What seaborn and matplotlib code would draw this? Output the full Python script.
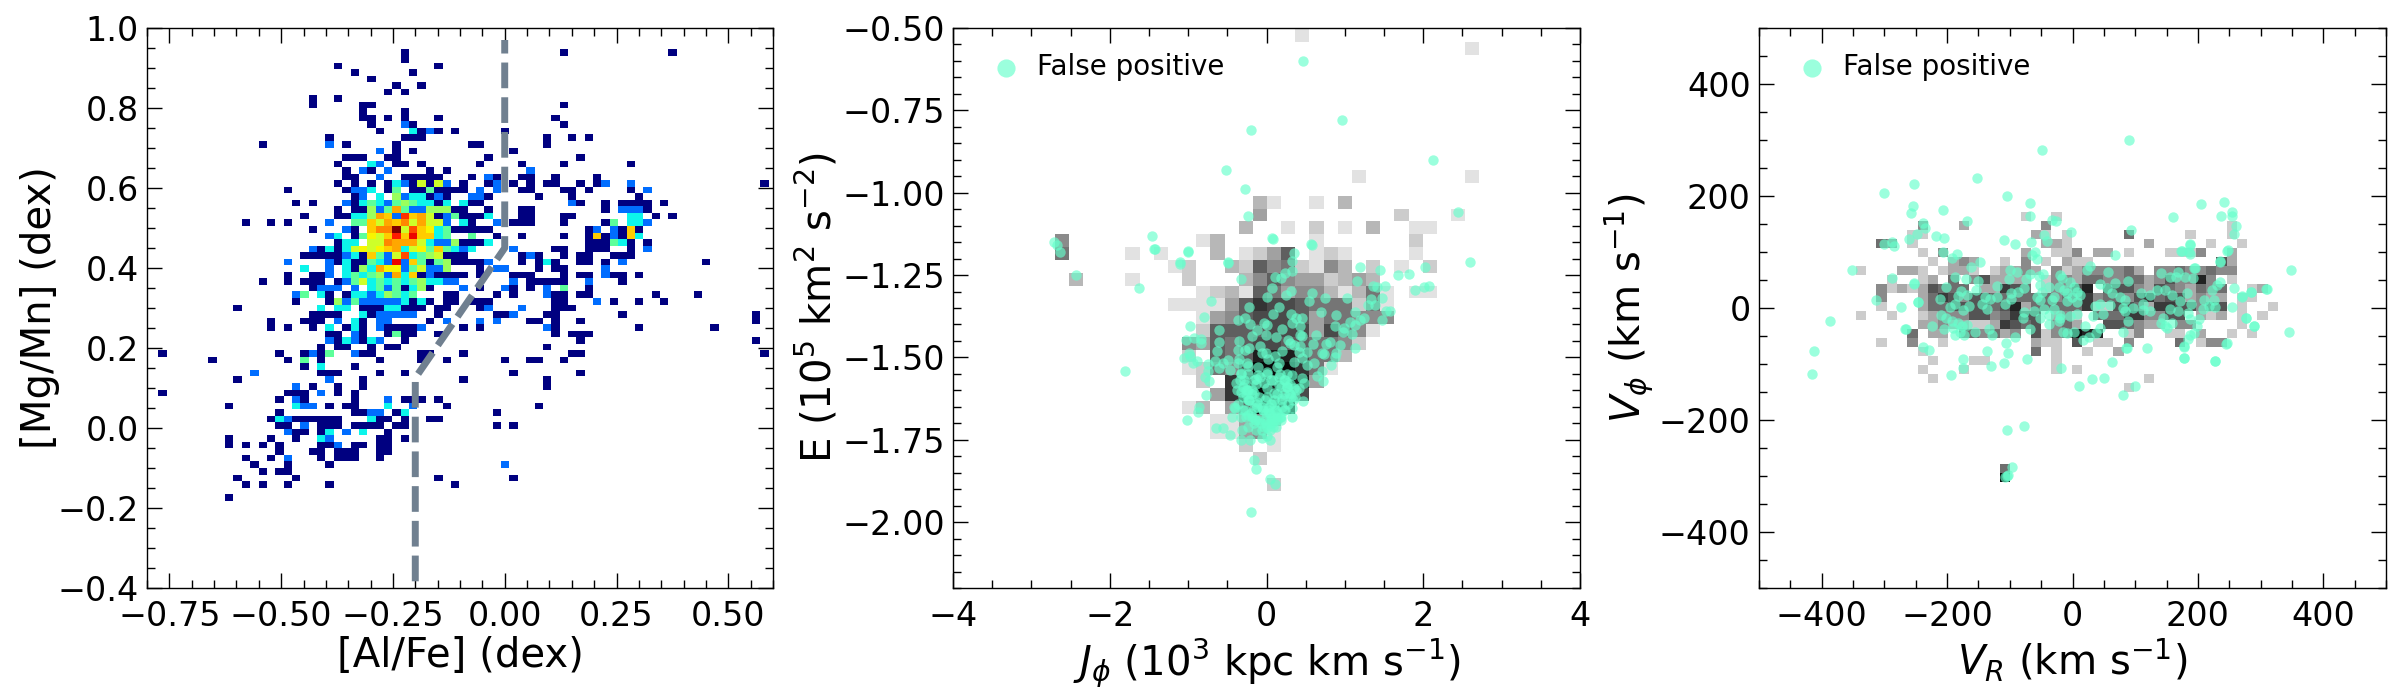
import numpy as np
import matplotlib
matplotlib.use("Agg")
import matplotlib.pyplot as plt
from matplotlib.colors import LogNorm, Normalize, PowerNorm
from matplotlib.ticker import MultipleLocator
import seaborn as sns

# ---------- left panel: counts per row of the [Al/Fe]-[Mg/Mn] histogram (row: "col:count") ----------
al_edges = np.linspace(-0.775, 0.628, 76)
mg_edges = np.linspace(-0.1818, 0.9464, 70)
mg_rows = {
68:"29 48 61",67:"29",66:"21 33",65:"23 30",64:"25",63:"28 31",62:"27 29",61:"18 21",60:"18 24 25 48",59:"24 29",
58:"24 25 27 29 33 47",57:"25 29:2 30 48",56:"26 30:3 31 32:2 33 35 41",55:"20 29 30 31 46 49 51",
54:"12 20:2 22 28 37 38 46",53:"26:2 28 30 42",52:"22 23 24 27 28 39 50",
51:"21 25:3 26:2 28 29 31 38 43 48 56",50:"22 24:2 25 27:2 32 34 44:2",
49:"22 23 26:2 29 30 31 32 33 37 39:2 40 43 44 47 52",
48:"21 23 25 27 28:3 29:2 30 31:6 32 33:6 34:2 36 39 40:2 42 44 46 47 50 52 53:2 56:2 72",
47:"15 22 23:2 24:2 25:3 27 28:4 30 31 32:4 33 34 35 36 38:2 40:2 43 44 48 49 51 56 58:2",
46:"23 24:2 26:3 28:5 29:2 30:3 31:3 32 33:2 34 37:2 38:2 39 45 49 57",
45:"16 18 22:2 23 24:3 25:4 26:3 27:2 28:4 29:5 30:4 31:3 32:3 33 34:3 36:3 37 38 49:2 50 53 55 56 57 58 60",
44:"21 23 24 25:5 26:2 27:4 28:9 29:4 30:2 31:2 32:5 33:5 34:5 35 36 39 43 44 53 55:2 56:2 57:2 58",
43:"17 21 22 23:3 24:3 25:5 26:9 27:8 28:2 29:13 30:8 31:9 32:6 33 34:2 35:4 36 37 38 39:3 43 44 48 49 56:3 57:3 59 61",
42:"10 13 15 20:2 23:4 24:4 25:8 26:6 27:9 28:8 29:10 30:6 31:9 32:6 33:6 34:2 36:3 37 40:2 42 43 44 48 53 54:4 56:3 57:3 58:2",
41:"18 22:2 23 25:8 26:10 27:10 28:20 29:6 30:12 31:8 32:7 33:3 34:4 35 36 37 38 39 51 52:2 54:2 55 56:8 57",
40:"20:2 21:3 23 24:4 25:7 26:6 27:8 28:14 29:8 30:15 31:8 32:8 33:3 34:4 37:4 40 43 48 51 52:8 53 54:2 55 56:8 57:3",
39:"21 22:3 23:3 25:6 26:6 27:10 28:9 29:9 30:9 31:6 32:3 33:2 34:2 35:5 36 37 38 39:3 51 52 53 54:4 55:3 56 58",
38:"18:2 19 20:3 21 22:3 23:6 24:7 25:6 26:7 27:8 28:9 29:3 30:6 31:7 32:4 33:8 34:4 35:3 36:2 37:3 42:2 47 48 51 52 53 56 58:2",
37:"17 18 19 20 21 22:2 23:3 24 25:8 26:4 27:2 28:6 29:12 30:3 31:4 32:5 33:6 34 35 36 43 44:2 45 48 50 51 54 55 56",
36:"15:2 20:2 21 22:3 23 24 25:4 26:3 27:2 28:15 29:2 30:8 31:4 32 33:4 34:5 35 36 37 38 39:2 43 45 46:3 47 50 51 53 55:2 65",
35:"17:3 20:2 22:3 23 24:5 25:3 26:9 27:7 28:7 29:2 30:4 31:6 32:2 33:2 34:5 38 40:2 41:2 45 47 48 53:2",
34:"15 18 19 20:2 22:3 23:4 24:3 25:4 26:5 27:2 28:9 29:3 30:8 31 32:2 33 34 35 36 38 42 43 44 48 50 51 53:2 54 55 57",
33:"12 15 17 18 19 21 22:2 23:4 24:6 25:3 26:4 27:3 28:4 29:3 30:4 31:5 32:3 33:3 34:2 35:2 42:2 44 45 46 47 48 51:2 55",
32:"18 19:2 20:2 21:2 23:2 25:3 26:4 27:2 28:4 29 30:3 31:5 32 36:2 38 41:2 42 44 46:2 48:4 51",
31:"16:2 17:4 19:3 20 22 23:3 24:3 25:2 26:3 27:5 28:4 29:3 30:4 34 35 40 42 46:2 47 48 50 51 59 64",
30:"16 20 21:5 22:2 23:4 24:2 25:2 26:2 27:2 28:2 29:3 30 31:3 32 34 35 37 38 39 47 48 52:2 54 57 60",
29:"9 19:3 21:3 22:3 24 25 26 27:3 28:3 29 30 31 33 34 38 39:2 43:2 47 48 49",
28:"18 19 20 21 24:3 25 26:2 27:2 28:2 29:2 30:2 33 40 41 42:2 46 47 55 71",
27:"13 17 18 19 21:2 23:3 24 26:2 27:2 32 34:2 38:2 40:2 44 45 47 50 71",
26:"13 15 18 20:3 22 23:3 24 26:2 27 28 29 30 31:2 36 38 46:2 47 57 66",
25:"20 21 23:2 24 27 28:4 29 30 33 47 49 50 51",
24:"20:2 21 22:3 23:2 24 25:3 26:2 29 50 71",23:"19 21 22 25 27 28 46",
22:"0 14 17 18:2 19 20:4 23:2 24 25 31 32 36 49 50 72",21:"6 15 17:4 19 26 31 34 41 44 45 48",20:"17 19:3 23",
19:"11:2 19 20 21 26 29 42 50",18:"9 20:2 24 36 46",17:"16:2 18 21 24 46",16:"0 15 16 17 19:2 21 23",
15:"14 16:2 17 23 27:2 29 30 31 33",14:"8 16:3 17:2 18:2 20 22 23 27:3 30:2 34 45",13:"14 23 24 25:2 26:2 28 29:3 40",
12:"13 14:3 15:2 16 17 18 19 20 21 25:3 26 27 29 32 33",11:"14 15 17:2 19 20 21 23 24 25 26 28 29 40 42",
10:"15:2 16 17 19 20:3 22:2 24:3 27",9:"8 13 16 19:3 20:2 26 27 29",8:"8 10 12 14 19 20 21:2 23 24 26 27",
7:"14 18 19 21 22 23 26 27",6:"10 13 15:2 19 21 22 23 26",5:"11 15 20 41:2",4:"12 14 15",3:"9 16 33 42",2:"10 12 15 20 35",0:"8",
}
dash_x = [-0.2, -0.2, 0.0, 0.0]
dash_y = [-0.47, 0.125, 0.45, 0.97]

# ---------- middle panel ----------
jphi_edges = 0.187 + 0.1807 * np.arange(-17, 16)
energy_edges = -1.165 - 0.0389 * np.arange(20, -19, -1)
energy_rows = {
-17:"1:1",-16:"13:1",-6:"5:1 13:1",-4:"-2:3 -1:1 2:1 4:3",-3:"-2:4 8:2 12:1",
-2:"-3:3 0:1 2:2 4:1 6:3 9:1 10:1",-1:"-16:5 -6:1 -5:3 2:1 9:2",
0:"-16:6 -11:1 -9:1 -5:3 -3:1 -2:2 -1:4 0:7 2:1 3:2 4:1 9:1",
1:"-8:1 -7:2 -4:3 -3:2 -2:7 -1:5 0:6 1:2 2:1 3:5 4:3 6:2 8:1 10:2",
2:"-15:3 -11:1 -7:2 -3:3 -2:5 -1:7 0:5 1:4 2:4 3:2 4:3 5:4 6:3",
3:"-6:1 -5:2 -4:3 -3:1 -2:7 -1:6 0:4 1:5 2:5 3:3 4:1 5:3 6:6 7:1 9:1 10:1",
4:"-8:1 -7:1 -6:1 -5:1 -4:4 -3:7 -2:9 -1:8 0:8 1:7 2:6 3:6 4:6 5:2 6:6 7:1",
5:"-6:1 -5:4 -4:5 -3:7 -2:8 -1:8 0:8 1:7 2:4 3:6 4:6 5:5 6:5 7:5",
6:"-6:2 -5:7 -4:7 -3:7 -2:7 -1:8 0:8 1:8 2:4 3:8 4:6 5:5 6:1",
7:"-7:5 -6:4 -5:7 -4:6 -3:7 -2:8 -1:8 0:7 1:7 2:6 3:6 4:5 5:2",
8:"-7:2 -5:7 -4:6 -3:7 -2:10 -1:10 0:10 1:8 2:6 3:6 4:3",
9:"-7:1 -6:2 -5:6 -4:5 -3:8 -2:11 -1:11 0:11 1:9 2:6 3:1",
10:"-6:2 -4:9 -3:9 -2:10 -1:10 0:11 1:10 2:4",
11:"-5:4 -4:9 -3:10 -2:11 -1:10 0:8 1:8",
12:"-7:1 -6:3 -4:4 -3:7 -2:11 -1:11 0:11",
13:"-5:1 -4:1 -3:4 -2:5 -1:4",14:"-5:1 -4:1 -3:4 -2:5 -1:1",15:"-3:2 -1:1",16:"-2:2",18:"-1:2",
}
fp_jphi = [.46,.96,-.20,2.13,-.52,-.27,-.24,2.44,.08,.58,-1.46,-2.71,-2.67,-2.64,-1.43,-1.0,-1.10,-.49,-2.43,-1.63,-1.80,2.6,-.195,.05,.11,-.13,-.16,
.07,.57,-1.0,-1.42,-1.11,-.49,.35,.33,.33,.23,.18,.11,-.33,1.19,1.45,1.68,1.82,2.02,1.16,1.36,1.41,1.51,1.90,2.01,2.07,.07,.31,.25,.01,.58,.75,1.03,.54,-.71,1.33,1.38,1.30,1.48,-.22,.16,.69,1.13,1.53,1.57,1.47,-.80,-.98,-.36,-.27,-.21,.08,.31,.38,.45,.32,.43,.89,.88,1.25,1.19,1.07,1.13,.99,1.09,.97,-.03,.01,-.12,-.60,.20,.43,.455,.63,-.01,-.18,.12,-.61,-1.03,-.93,-.84,-.83,-.35,-.08,.27,.30,.35,.43,.59,.81,.76,.94,1.13,-.63,-.37,-.27,-.22,-.06,.20,-.01,.52,.42,.73,.89,-.99,-1.05,-.97,-.94,-.885,-.66,-.49,-.55,-.60,-.35,.02,.11,-.25,-.37,-.46,-.75,-.75,-.23,.13,.35,.455,.52,.60,.82,.71,.87,-.79,-.73,-.77,-.855,-.87,-1.01,-.33,-.11,.01,.16,.17,.32,.455,.65,.72,.71,
-.29,-.39,-.38,-.32,-.11,-.13,-.03,.06,.16,.26,.35,.48,.41,.29,-.25,-.16,.01,.09,.20,.31,.46,.33,-.42,-.40,-.23,-.12,.01,.09,-.16,-.05,.03,.11,.20,-.33,-.44,-.23,-.13,-.01,.07,.14,.18,.08,-.65,-.55,-.46,-.31,-.21,-.33,-.06,-.0,.05,
-.30,-.26,-.22,-.18,-.14,-.10,-.06,-.02,.02,.06,.10,.14,.18,.22,.26,-.28,-.20,-.12,-.04,.04,.12,.20,-.24,-.16,-.08,.00,.08,.16,.24,-.18,-.10,-.02,.06,.14,-.07,.01,.05,.09,-.03,.13,-.15,.17,.03,-.01,.07,
-.34,-.30,-.26,-.22,-.18,-.14,.22,.26,.30,.34,.38,-.30,-.26,-.16,.24,.28,.32,.36,-.36,-.32,-.28,-.24,.18,.22,.26,.30,-.24,-.14,-.06,.04,.12]
fp_energy = [-.60,-.78,-.81,-.90,-.93,-.99,-1.07,-1.06,-1.14,-1.16,-1.13,-1.15,-1.16,-1.18,-1.17,-1.18,-1.21,-1.21,-1.25,-1.29,-1.54,-1.21,-1.97,-1.87,-1.885,-1.84,-1.81,
-1.139,-1.156,-1.176,-1.172,-1.215,-1.212,-1.184,-1.206,-1.237,-1.243,-1.26,-1.255,-1.263,-1.227,-1.235,-1.25,-1.247,-1.225,-1.267,-1.282,-1.285,-1.283,-1.295,-1.285,-1.283,-1.29,-1.297,-1.311,-1.316,-1.303,-1.321,-1.319,-1.328,-1.328,-1.322,-1.341,-1.342,-1.321,-1.348,-1.348,-1.361,-1.362,-1.358,-1.358,-1.385,-1.377,-1.404,-1.385,-1.379,-1.399,-1.368,-1.368,-1.379,-1.379,-1.397,-1.405,-1.371,-1.405,-1.379,-1.387,-1.392,-1.402,-1.41,-1.43,-1.422,-1.397,-1.402,-1.417,-1.418,-1.415,-1.432,-1.434,-1.432,-1.432,-1.435,-1.437,-1.452,-1.447,-1.441,-1.443,-1.457,-1.45,-1.464,-1.447,-1.455,-1.463,-1.466,-1.46,-1.452,-1.46,-1.462,-1.472,-1.481,-1.478,-1.476,-1.471,-1.486,-1.48,-1.488,-1.483,-1.485,-1.491,-1.488,-1.486,-1.503,-1.495,-1.516,-1.512,-1.512,-1.508,-1.516,-1.533,-1.504,-1.506,-1.496,-1.516,-1.516,-1.539,-1.52,-1.54,-1.525,-1.528,-1.513,-1.503,-1.523,-1.516,-1.522,-1.488,-1.5,-1.559,-1.573,-1.614,-1.652,-1.665,-1.691,-1.547,-1.528,-1.543,-1.518,-1.549,-1.554,-1.561,-1.557,-1.573,-1.541,
-1.569,-1.579,-1.599,-1.604,-1.554,-1.567,-1.579,-1.569,-1.584,-1.579,-1.594,-1.579,-1.594,-1.609,-1.599,-1.609,-1.594,-1.609,-1.624,-1.619,-1.632,-1.655,-1.65,-1.655,-1.63,-1.635,-1.62,-1.64,-1.655,-1.66,-1.65,-1.66,-1.65,-1.68,-1.68,-1.675,-1.69,-1.67,-1.68,-1.69,-1.69,-1.71,-1.715,-1.715,-1.735,-1.72,-1.75,-1.75,-1.745,-1.74,-1.75,
-1.62,-1.60,-1.63,-1.61,-1.64,-1.62,-1.65,-1.63,-1.66,-1.64,-1.63,-1.61,-1.59,-1.61,-1.59,-1.66,-1.67,-1.65,-1.66,-1.67,-1.66,-1.63,-1.55,-1.57,-1.56,-1.55,-1.57,-1.56,-1.57,-1.68,-1.69,-1.69,-1.69,-1.68,-1.70,-1.71,-1.70,-1.69,-1.71,-1.67,-1.69,-1.68,-1.67,-1.70,-1.70,
-1.57,-1.59,-1.61,-1.63,-1.60,-1.58,-1.57,-1.59,-1.61,-1.63,-1.60,-1.66,-1.68,-1.70,-1.66,-1.64,-1.68,-1.62,-1.64,-1.55,-1.58,-1.60,-1.68,-1.66,-1.55,-1.58,-1.71,-1.72,-1.72,-1.72,-1.71]
n2 = min(len(fp_jphi), len(fp_energy))
fp_jphi, fp_energy = fp_jphi[:n2], fp_energy[:n2]

# ---------- right panel ----------
vr_edges = -312.9 + 16.43 * np.arange(-2, 40)
vphi_edges = 59.1 - 16.07 * np.arange(24, -8, -1)
vphi_rows = {
-6:"14:1 17:1",-5:"4:3 8:2 16:3 34:1",-4:"3:1 4:1 15:2 16:1 18:1 24:4 30:1 34:1",
-3:"0:4 1:3 3:1 16:2 17:2 18:1 26:2 32:1 35:1",
-2:"4:1 6:3 14:2 17:1 18:1 19:3 21:2 22:2 24:1 28:1 29:1 30:1 31:3 34:2",
-1:"5:1 7:2 8:3 9:2 12:1 14:3 16:1 18:2 19:1 20:1 33:5 34:2",
0:"-2:1 2:2 3:2 4:1 6:1 7:2 8:2 9:1 11:1 12:2 13:2 14:3 15:2 17:3 18:1 19:2 20:3 21:3 22:3 23:3 24:4 25:2 27:3 28:3 29:4 30:3 31:3 32:4 33:3 34:3",
1:"1:1 4:1 5:2 7:4 9:3 10:5 11:2 12:2 13:2 14:2 16:1 17:3 18:3 19:2 20:4 21:4 22:3 23:3 24:4 25:4 26:2 27:3 28:5 29:3 30:3 31:7 32:3 34:1",
2:"0:3 1:1 2:2 3:1 4:2 5:5 6:4 7:4 8:4 10:2 11:2 12:6 13:5 14:4 16:1 17:3 18:3 19:5 20:7 22:5 23:5 24:5 25:3 26:2 27:5 28:4 29:3 30:2 31:4 32:3 33:4 36:1 37:2",
3:"0:3 4:2 5:4 6:6 7:5 8:3 9:5 10:5 11:4 12:4 13:4 14:4 15:4 16:4 17:3 18:4 19:4 20:6 21:3 22:4 23:4 24:3 25:5 26:6 27:4 28:5 29:5 30:2 31:3 32:2 33:2 35:1 36:1",
4:"0:1 4:2 5:4 6:4 7:5 8:5 9:5 10:5 11:4 12:5 13:7 14:2 15:4 16:4 17:4 18:4 19:4 20:6 21:1 22:1 23:5 24:5 25:4 26:2 27:6 28:6 29:5 30:5 31:3 32:5 33:5 35:1 38:1",
5:"-2:1 1:1 4:1 5:2 6:3 7:3 8:3 9:5 10:5 11:3 12:4 13:6 14:5 15:5 17:2 18:3 19:1 21:4 22:4 23:4 24:6 25:6 26:3 27:3 28:5 29:5 31:2 32:1 33:2 35:1 37:1",
6:"4:2 5:2 6:3 7:2 8:2 9:1 10:1 11:2 12:6 13:5 14:4 15:5 17:3 18:4 19:2 22:5 23:5 24:4 25:3 26:2 27:2 29:3 30:3 35:1",
7:"3:4 5:2 6:2 8:4 9:4 10:3 11:4 12:2 13:3 15:5 16:1 17:3 18:4 19:8 20:7 21:7 24:1 25:3 28:1 29:1 31:2 34:1 36:1",
8:"0:1 3:3 6:1 15:2 16:1 17:1 19:5 21:1 22:1 24:3 29:4 31:1 32:3 33:3",
9:"4:1 15:4 17:1 20:1 23:2",10:"5:1 9:1 10:1 17:1",11:"4:1 8:1 17:1 19:1",12:"5:1 26:1",13:"24:1",22:"12:4",23:"12:8",
}
fp_vr = [90,-48,-153,-253,-301,-105,241,-68,205,-254,-257,-206,-68,161,255,255,237,-168,261,257,-239,-235,-248,-218,-205,-33,-27,-46,-41,-3,93,-109,-92,-66,-260,-300,-288,-285,-207,-184,-192,248,188,186,173,-60,-64,-56,68,236,-147,-162,-351,349,-288,310,285,270,-386,-412,-415,345,290,276,-274,-313,-253,-247,-267,227,178,178,246,119,86,63,81,99,51,31,11,-72,-103,-109,-130,-194,-174,-174,-78,-105,-97,-103,-108,-105,-136,-239,-229,-19,
-253,-246,-211,-201,-188,-170,-151,-178,-183,-168,-154,-195,-187,-174,-165,-139,-131,-145,-137,-121,-121,-107,-98,-98,-87,-77,-100,-88,-101,-74,-68,-54,-47,-52,-49,-57,-52,-33,-30,-37,-22,-14,-4,2,-9,7,-1,12,-9,7,-17,-20,-46,-61,-78,-30,-38,-20,-4,7,-52,-79,-20,-37,-21,-15,-9,2,20,44,37,27,17,-68,-92,-106,-128,-156,-133,-205,-192,-183,-169,-177,-187,-173,-190,-179,-224,-266,-210,-202,
36,44,60,49,32,63,55,44,57,23,28,68,75,84,81,89,97,84,89,81,87,113,113,124,110,124,134,148,158,171,155,141,165,169,180,193,196,192,187,174,188,236,183,189,156,145,141,148,158,150,169,185,187,202,198,193,188,185,178,178,228,209,225,217,227,208,222,230,235,258,254,270,285,309,276,290,245,247]
fp_vphi = [300,283,233,222,206,200,190,187,186,182,170,175,165,162,164,171,164,155,147,133,152,142,132,129,125,158,155,131,120,136,139,121,114,117,124,115,118,110,100,96,90,103,114,100,101,100,95,87,95,84,82,74,68,68,53,34,28,22,-23,-76,-117,-43,-33,-17,1,14,44,10,-37,-94,-89,-68,-63,-71,-71,-96,-155,-140,-125,-127,-139,-91,-80,-99,-103,-119,-107,-91,-210,-217,-284,-298,-302,-300,-77,-69,-75,-107,
43,10,16,38,55,51,48,30,22,23,32,1,8,-3,4,20,16,7,-1,39,20,8,26,16,28,35,67,65,52,52,61,57,61,41,29,19,14,14,19,38,38,33,47,38,26,29,20,23,13,10,54,59,-1,-5,-8,-1,-12,-12,-14,-11,-18,-17,-17,-28,-24,-42,-44,-42,-33,-36,-45,-51,-57,-38,-52,-62,-49,-43,-38,-38,-24,-27,-31,-33,-48,-48,-36,-42,-32,-38,-12,-17,
4,7,5,-11,-14,26,35,42,64,67,75,45,20,14,0,49,0,-6,-24,-42,-72,7,-3,-6,26,23,33,32,23,13,56,62,56,65,55,71,72,53,96,102,113,83,26,7,-2,-18,-26,-33,-27,-36,-6,-9,-20,-20,-33,-45,-48,-56,-69,-90,-94,14,14,4,2,-2,33,41,47,35,2,20,28,34,-17,-33,-64,101]
n3 = min(len(fp_vr), len(fp_vphi))
fp_vr, fp_vphi = fp_vr[:n3], fp_vphi[:n3]

LEGEND_LABEL = "False positive"
FP_COLOR = "#66FFCC"
DASH_COLOR = "#708090"

sns.set_theme(style="white", rc={"font.family": "DejaVu Sans", "mathtext.fontset": "dejavusans"})


def draw_hist(ax, rows, x_edges, y_edges, row_to_y, col_to_x, cmap, norm):
    xs, ys, ws = [], [], []
    for row, text in rows.items():
        for item in text.split():
            col, n = item.split(":") if ":" in item else (item, "1")
            xs.append(col_to_x(int(col)))
            ys.append(row_to_y(row))
            ws.append(float(n))
    sns.histplot(x=np.array(xs), y=np.array(ys), weights=np.array(ws),
                 bins=(x_edges, y_edges), cmap=plt.get_cmap(cmap), ax=ax, thresh=0)
    mesh = ax.collections[-1]
    mesh.set_norm(norm)


def style(ax, xlim, ylim, xmaj, xmin, ymaj, ymin, xlabel, ylabel, xpad=2, ypad=5):
    ax.set_xlim(xlim)
    ax.set_ylim(ylim)
    ax.xaxis.set_major_locator(MultipleLocator(xmaj))
    ax.xaxis.set_minor_locator(MultipleLocator(xmin))
    ax.yaxis.set_major_locator(MultipleLocator(ymaj))
    ax.yaxis.set_minor_locator(MultipleLocator(ymin))
    ax.tick_params(axis="x", pad=9)
    ax.tick_params(axis="y", pad=6)
    ax.tick_params(which="major", direction="in", length=11, width=1, top=True, right=True,
                   bottom=True, left=True, labelsize=24, color="black", labelcolor="black")
    ax.tick_params(which="minor", direction="in", length=5.5, width=1, top=True, right=True,
                   bottom=True, left=True, color="black")
    ax.set_xlabel(xlabel, fontsize=29, color="black", labelpad=xpad)
    ax.set_ylabel(ylabel, fontsize=29, color="black", labelpad=ypad)
    for s in ax.spines.values():
        s.set_visible(True)
        s.set_color("black")
        s.set_linewidth(1)
    ax.grid(False)
    ax.set_facecolor("white")


def scatter(ax, x, y):
    sns.scatterplot(x=np.array(x, dtype=float), y=np.array(y, dtype=float), color=FP_COLOR, s=56, alpha=0.65,
                    linewidth=0, label=LEGEND_LABEL, ax=ax, zorder=5)
    leg = ax.legend(loc="upper left", frameon=False, fontsize=20, markerscale=1.75,
                    bbox_to_anchor=(0.022, 0.975), borderaxespad=0, handletextpad=0.14)
    for h in leg.legend_handles:
        h.set_alpha(0.65)
    for t in leg.get_texts():
        t.set_color("black")


fig = plt.figure(figsize=(24, 7), dpi=100)
W, H = 2400.0, 700.0
def axes_at(x0, x1, y0=28, y1=588):
    return fig.add_axes([x0 / W, 1 - y1 / H, (x1 - x0) / W, (y1 - y0) / H])

ax1 = axes_at(147, 773)
ax2 = axes_at(953, 1580)
ax3 = axes_at(1759, 2386)

# Left
xc = (al_edges[:-1] + al_edges[1:]) / 2
yc = (mg_edges[:-1] + mg_edges[1:]) / 2
draw_hist(ax1, mg_rows, al_edges, mg_edges, lambda r: yc[r], lambda c: xc[c], "jet", LogNorm(vmin=1, vmax=20))
sns.lineplot(x=dash_x, y=dash_y, sort=False, estimator=None, color=DASH_COLOR, lw=5, linestyle=(0, (3.7, 1.3)), ax=ax1, zorder=4)
style(ax1, (-0.8, 0.6), (-0.4, 1.0), 0.25, 0.05, 0.2, 0.05, "[Al/Fe] (dex)", "[Mg/Mn] (dex)", ypad=-2)

# Middle
xc2 = (jphi_edges[:-1] + jphi_edges[1:]) / 2
yc2 = (energy_edges[:-1] + energy_edges[1:]) / 2
draw_hist(ax2, energy_rows, jphi_edges, energy_edges,
          lambda r: yc2[19 - r], lambda c: xc2[c + 17], "gray_r", Normalize(vmin=-0.34, vmax=11.4))
scatter(ax2, fp_jphi, fp_energy)
style(ax2, (-4, 4), (-2.2, -0.5), 2, 0.5, 0.25, 0.05,
      r"$J_{\phi}$ ($10^{3}$ kpc km s$^{-1}$)", r"E ($10^{5}$ km$^{2}$ s$^{-2}$)", ypad=1)

# Right
xc3 = (vr_edges[:-1] + vr_edges[1:]) / 2
yc3 = (vphi_edges[:-1] + vphi_edges[1:]) / 2
draw_hist(ax3, vphi_rows, vr_edges, vphi_edges,
          lambda r: yc3[24 - r], lambda c: xc3[c + 2], "gray_r", PowerNorm(0.75, vmin=0, vmax=8.5))
scatter(ax3, fp_vr, fp_vphi)
style(ax3, (-500, 500), (-500, 500), 200, 50, 200, 50,
      r"$V_{R}$ (km s$^{-1}$)", r"$V_{\phi}$ (km s$^{-1}$)", ypad=3)

fig.savefig("out.png", dpi=100, facecolor="white")
